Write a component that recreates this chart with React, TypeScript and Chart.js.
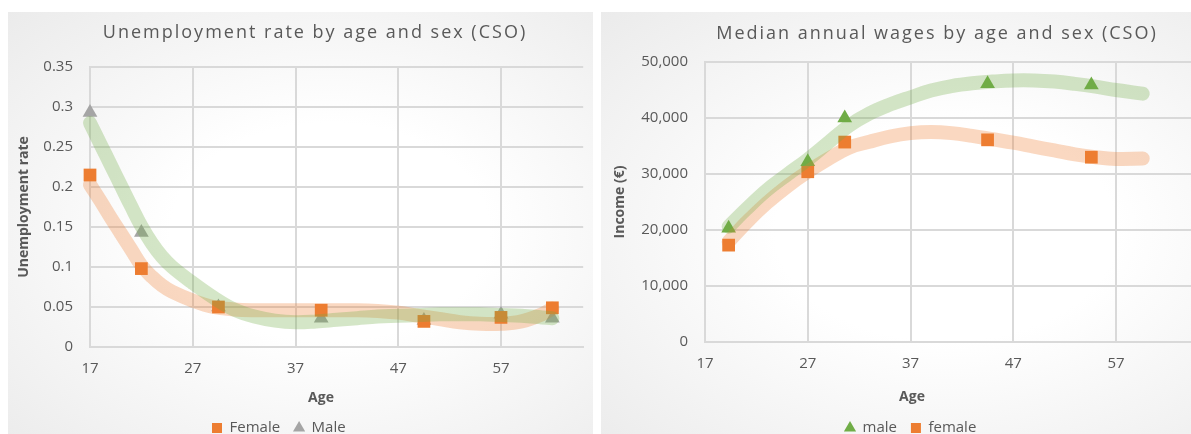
import React, { useEffect, useRef } from 'react';
import { Chart, registerables } from 'chart.js';

Chart.register(...registerables);

const FONT = "'Open Sans', 'Noto Sans', sans-serif";
Chart.defaults.font.family = FONT;

const TEXT = '#595959';
const GRID = '#d9d9d9';
const ORANGE = '#ED7D31';
const GREEN = '#70AD47';
const GRAY = '#A5A5A5';
const ORANGE_TREND = 'rgba(237,125,49,0.3)';
const GREEN_TREND = 'rgba(112,173,71,0.3)';
const PANEL_BG = 'radial-gradient(ellipse at 55% 50%, #ffffff 0%, #ffffff 35%, #ebebeb 100%)';

// ---------- Left chart: unemployment rate ----------
const unempTitle = 'Unemployment rate by age and sex (CSO)';
const unempAges = [17, 22, 29.5, 39.5, 49.5, 57, 62];
const unempFemale = [0.215, 0.098, 0.05, 0.046, 0.032, 0.037, 0.049];
const unempMale = [0.293, 0.143, 0.05, 0.036, 0.033, 0.041, 0.036];
const unempTrendAges = [17, 18, 19, 20, 21, 22, 23, 24, 25, 27, 29, 31, 33, 35, 37, 39, 41, 43, 45, 47, 49, 51, 53, 55, 57, 59, 61, 62];
const unempFemaleTrend = [0.203, 0.183, 0.162, 0.142, 0.122, 0.102, 0.088, 0.077, 0.069, 0.058, 0.05, 0.047, 0.046, 0.046, 0.046, 0.046, 0.046, 0.046, 0.045, 0.043, 0.039, 0.035, 0.031, 0.029, 0.029, 0.032, 0.041, 0.048];
const unempMaleTrend = [0.28, 0.254, 0.228, 0.202, 0.176, 0.151, 0.13, 0.113, 0.1, 0.08, 0.062, 0.047, 0.038, 0.033, 0.031, 0.032, 0.034, 0.036, 0.038, 0.039, 0.04, 0.041, 0.041, 0.041, 0.04, 0.039, 0.037, 0.036];
const unempXTicks = [17, 27, 37, 47, 57];
const unempYTicks = [0, 0.05, 0.1, 0.15, 0.2, 0.25, 0.3, 0.35];

// ---------- Right chart: median wages ----------
const wageTitle = 'Median annual wages by age and sex (CSO)';
const wageAges = [19.3, 27, 30.6, 44.5, 54.6];
const wageMale = [20300, 32200, 40000, 46100, 45900];
const wageFemale = [17300, 30400, 35700, 36100, 33000];
const wageTrendAges = [19.3, 21, 23, 25, 27, 29, 31, 33, 35, 37, 39, 41, 43, 45, 47, 49, 51, 53, 55, 57, 59.6];
const wageMaleTrend = [20600, 23700, 27100, 29900, 32600, 35600, 38600, 40800, 42400, 43700, 44900, 45700, 46200, 46500, 46700, 46700, 46500, 46100, 45600, 45000, 44350];
const wageFemaleTrend = [17900, 21300, 24800, 27800, 30400, 32700, 34700, 35750, 36700, 37300, 37500, 37300, 36800, 36200, 35600, 34900, 34200, 33500, 33000, 32700, 32750];
const wageXTicks = [17, 27, 37, 47, 57];
const wageYTicks = [0, 10000, 20000, 30000, 40000, 50000];

const pts = (xs: number[], ys: number[]) => xs.map((x, i) => ({ x, y: ys[i] }));

const textPlugin = {
  id: 'panelText',
  afterDraw(chart: any, _args: any, opts: any) {
    const ctx = chart.ctx as CanvasRenderingContext2D;
    for (const t of opts.items || []) {
      ctx.save();
      ctx.font = t.font;
      ctx.fillStyle = t.color;
      ctx.textAlign = 'center';
      ctx.textBaseline = 'middle';
      (ctx as any).letterSpacing = t.spacing || '0px';
      ctx.fillText(t.text, t.x, t.y);
      ctx.restore();
    }
  },
};

const legendPlacer = {
  id: 'legendPlacer',
  afterLayout(chart: any, _args: any, opts: any) {
    const lg = chart.legend;
    if (!lg) return;
    const w = lg.right - lg.left;
    const h = lg.bottom - lg.top;
    const pad = lg.options.labels.padding;
    const fs = lg.options.labels.font.size;
    lg.left = opts.x - pad;
    lg.right = lg.left + w;
    lg.top = opts.y - pad - fs / 2;
    lg.bottom = lg.top + h;
  },
};

function makeConfig(p: {
  datasets: any[];
  xMin: number; xMax: number; xTicks: number[];
  yMin: number; yMax: number; yTicks: number[];
  yFormat: (v: number) => string;
  yTitle: string; yTitlePad: number;
  areaLeft: number; areaTop: number; areaBottom: number; padRight: number;
  texts: any[];
  legendX: number; legendY: number;
}) {
  return {
    type: 'scatter',
    data: { datasets: p.datasets },
    plugins: [textPlugin, legendPlacer],
    options: {
      responsive: false,
      animation: false,
      events: [],
      layout: { padding: { top: p.areaTop, left: 0, right: p.padRight, bottom: 0 } },
      scales: {
        x: {
          type: 'linear',
          min: p.xMin,
          max: p.xMax,
          afterBuildTicks: (s: any) => { s.ticks = p.xTicks.map((v) => ({ value: v })); },
          afterFit: (s: any) => {
            const lh = s.chart.legend ? s.chart.legend.height : 0;
            s.height = s.chart.height - p.areaBottom - lh;
          },
          ticks: { autoSkip: false, maxRotation: 0, padding: 13, color: TEXT, font: { size: 15 } },
          grid: { color: GRID, lineWidth: 2, drawTicks: false },
          border: { color: GRID, width: 2 },
        },
        y: {
          type: 'linear',
          min: p.yMin,
          max: p.yMax,
          afterBuildTicks: (s: any) => { s.ticks = p.yTicks.map((v) => ({ value: v })); },
          afterFit: (s: any) => { s.width = p.areaLeft; },
          ticks: { autoSkip: false, padding: 17, color: TEXT, font: { size: 15 }, callback: (v: any) => p.yFormat(Number(v)) },
          grid: { color: GRID, lineWidth: 2, drawTicks: false },
          border: { color: GRID, width: 2 },
          title: { display: true, text: p.yTitle, color: TEXT, font: { size: 14, weight: 'bold' }, padding: { top: p.yTitlePad, bottom: 0 } },
        },
      },
      plugins: {
        tooltip: { enabled: false },
        title: { display: false },
        legend: {
          display: true,
          position: 'bottom',
          align: 'start',
          labels: {
            usePointStyle: true,
            boxWidth: 10,
            boxHeight: 10,
            padding: 14,
            color: TEXT,
            font: { size: 15 },
            filter: (item: any) => item.datasetIndex < 2,
          },
        },
        panelText: { items: p.texts },
        legendPlacer: { x: p.legendX, y: p.legendY },
      },
    },
  } as any;
}

const markerDs = (label: string, data: any[], style: string, color: string, r: number) => ({
  label, data, pointStyle: style, pointRadius: r, pointHoverRadius: r,
  backgroundColor: color, borderColor: color, borderWidth: 0, pointBorderWidth: 0,
  order: 1, clip: false,
});
const trendDs = (label: string, data: any[], color: string) => ({
  label, data, showLine: true, borderColor: color, backgroundColor: color, borderWidth: 14,
  pointRadius: 0, pointHoverRadius: 0, tension: 0.4, borderCapStyle: 'round', borderJoinStyle: 'round',
  fill: false, order: 0, clip: false,
});

const TITLE_FONT = `400 18px ${FONT}`;
const AXIS_FONT = `700 14px ${FONT}`;

function leftConfig() {
  return makeConfig({
    datasets: [
      markerDs('Female', pts(unempAges, unempFemale), 'rect', ORANGE, 9),
      markerDs('Male', pts(unempAges, unempMale), 'triangle', GRAY, 8.5),
      trendDs('Male trend', pts(unempTrendAges, unempMaleTrend), GREEN_TREND),
      trendDs('Female trend', pts(unempTrendAges, unempFemaleTrend), ORANGE_TREND),
    ],
    xMin: 17, xMax: 65, xTicks: unempXTicks,
    yMin: 0, yMax: 0.35, yTicks: unempYTicks,
    yFormat: (v) => String(v),
    yTitle: 'Unemployment rate', yTitlePad: 8,
    areaLeft: 82, areaTop: 55, areaBottom: 335, padRight: 9.8,
    texts: [
      { text: unempTitle, x: 307, y: 21, font: TITLE_FONT, color: TEXT, spacing: '2px' },
      { text: 'Age', x: 313, y: 386, font: AXIS_FONT, color: TEXT },
    ],
    legendX: 204, legendY: 416,
  });
}

function rightConfig() {
  return makeConfig({
    datasets: [
      markerDs('male', pts(wageAges, wageMale), 'triangle', GREEN, 8.5),
      markerDs('female', pts(wageAges, wageFemale), 'rect', ORANGE, 9),
      trendDs('male trend', pts(wageTrendAges, wageMaleTrend), GREEN_TREND),
      trendDs('female trend', pts(wageTrendAges, wageFemaleTrend), ORANGE_TREND),
    ],
    xMin: 17, xMax: 67, xTicks: wageXTicks,
    yMin: 0, yMax: 50000, yTicks: wageYTicks,
    yFormat: (v) => v.toLocaleString('en-US'),
    yTitle: 'Income (€)', yTitlePad: 11,
    areaLeft: 104, areaTop: 50, areaBottom: 330, padRight: 10.25,
    texts: [
      { text: wageTitle, x: 336, y: 22, font: TITLE_FONT, color: TEXT, spacing: '2px' },
      { text: 'Age', x: 311, y: 385, font: AXIS_FONT, color: TEXT },
    ],
    legendX: 244, legendY: 416,
  });
}

function ChartCanvas({ make, width, height }: { make: () => any; width: number; height: number }) {
  const ref = useRef<HTMLCanvasElement>(null);
  useEffect(() => {
    const chart = new Chart(ref.current as HTMLCanvasElement, make());
    return () => chart.destroy();
  }, []);
  return <canvas ref={ref} width={width} height={height} style={{ display: 'block', width, height }} />;
}

export default function App() {
  return (
    <div style={{ position: 'fixed', left: 0, top: 0, width: 1191, height: 434, overflow: 'hidden', background: '#ffffff' }}>
      <div style={{ position: 'absolute', left: 8, top: 12, width: 585, height: 440, background: PANEL_BG }}>
        <ChartCanvas make={leftConfig} width={585} height={440} />
      </div>
      <div style={{ position: 'absolute', left: 601, top: 12, width: 628, height: 440, background: PANEL_BG }}>
        <ChartCanvas make={rightConfig} width={628} height={440} />
      </div>
    </div>
  );
}
